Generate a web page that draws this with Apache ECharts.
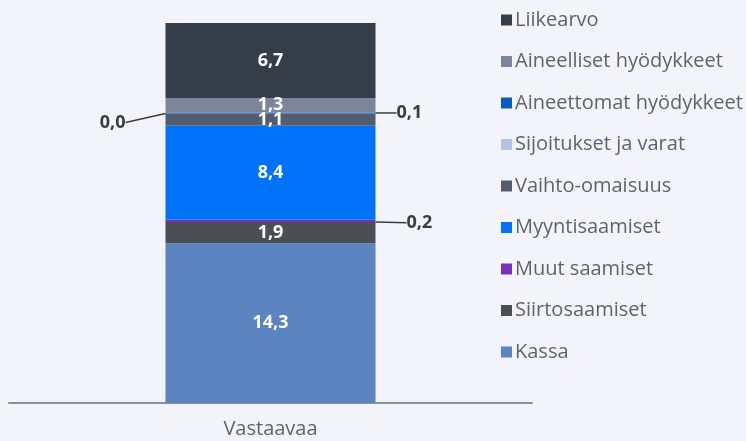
<!DOCTYPE html>
<html>
<head>
<meta charset="utf-8">
<script src="https://cdn.jsdelivr.net/npm/echarts@6/dist/echarts.min.js"></script>
<style>
  html, body { margin: 0; padding: 0; background: #f3f4f9; }
  #main { width: 746px; height: 441px; }
</style>
</head>
<body>
<div id="main"></div>
<script>
var categories = ['Vastaavaa'];
// pinon järjestys alhaalta ylös
var seriesNames = ['Kassa', 'Siirtosaamiset', 'Muut saamiset', 'Myyntisaamiset', 'Vaihto-omaisuus',
                   'Sijoitukset ja varat', 'Aineettomat hyödykkeet', 'Aineelliset hyödykkeet', 'Liikearvo'];
var values = [14.3, 1.9, 0.2, 8.4, 1.1, 0.0, 0.1, 1.3, 6.7];
var colors = ['#5b84c0', '#4a4f56', '#7a2fbf', '#0073fa', '#535d6f',
              '#b3c3e3', '#0b5cc0', '#7c8599', '#353d48'];

// pienet arvot näytetään palkin ulkopuolella
var outside = {
    'Sijoitukset ja varat':   { position: 'left',  dx: -35, dy: 9 },
    'Aineettomat hyödykkeet': { position: 'right', dx: 16,  dy: 0 },
    'Muut saamiset':          { position: 'right', dx: 26,  dy: 2 }
};

function fmt(p) {
    return p.value.toFixed(1).replace('.', ',');
}

var chart = echarts.init(document.getElementById('main'), null, { renderer: 'canvas' });

var series = seriesNames.map(function (name, i) {
    var o = outside[name];
    var s = {
        name: name,
        type: 'bar',
        stack: 'total',
        barWidth: 210,
        data: [values[i]],
        itemStyle: { color: colors[i] },
        label: {
            show: true,
            position: 'inside',
            formatter: fmt,
            color: '#ffffff',
            fontFamily: 'Open Sans',
            fontWeight: 'bold',
            fontSize: 18
        }
    };
    if (o) {
        s.label.position = o.position;
        s.label.distance = 5;
        s.label.color = '#353d48';
        s.labelLayout = { dx: o.dx, dy: o.dy };
        s.labelLine = { show: true, lineStyle: { color: '#353d48', width: 1.5 } };
    }
    return s;
});

var option = {
    backgroundColor: '#f3f4f9',
    animation: false,
    grid: { left: 9, right: 214, top: 23, bottom: 38 },
    legend: {
        orient: 'vertical',
        left: 496,
        top: 5,
        itemWidth: 11,
        itemHeight: 11,
        itemGap: 21.5,
        icon: 'rect',
        data: seriesNames.slice().reverse(),
        textStyle: { color: '#5b6474', fontSize: 20, fontFamily: 'Open Sans', padding: [0, 0, 0, -2] }
    },
    xAxis: {
        type: 'category',
        data: categories,
        axisLine: { lineStyle: { color: '#8a9099', width: 2 } },
        axisTick: { show: false },
        axisLabel: { color: '#5b6474', fontSize: 20, fontFamily: 'Open Sans', margin: 16 }
    },
    yAxis: {
        type: 'value',
        min: 0,
        max: 34,
        show: false,
        splitLine: { show: false }
    },
    series: series
};

chart.setOption(option);
</script>
</body>
</html>
